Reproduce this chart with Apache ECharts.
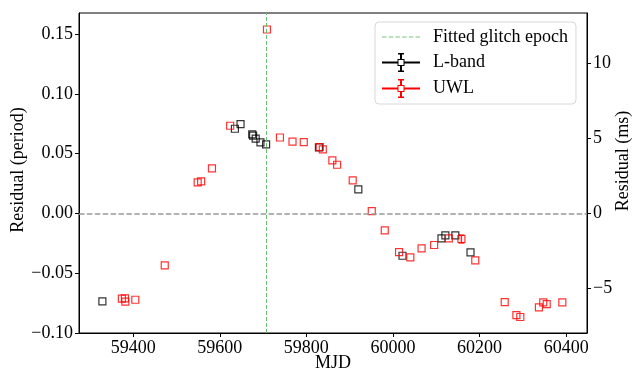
<!DOCTYPE html>
<html>
<head>
<meta charset="utf-8">
<script src="https://cdn.jsdelivr.net/npm/echarts@6/dist/echarts.min.js"></script>
<style>
  html, body { margin: 0; padding: 0; background: #fff; }
  #chart { width: 633px; height: 372px; }
</style>
</head>
<body>
<div id="chart"></div>
<script>
// timing residuals
const lbandMjd = [59329, 59635, 59648, 59675, 59677, 59683, 59694, 59707, 59829, 59920, 60022, 60112, 60121, 60144, 60179];
const lbandRes = [-0.0736, 0.0708, 0.0747, 0.0661, 0.0650, 0.0625, 0.0594, 0.0577, 0.0552, 0.0201, -0.0354, -0.0209, -0.0184, -0.0184, -0.0326];

const uwlMjd = [59374, 59381, 59382, 59405, 59473, 59549, 59557, 59582, 59624, 59709, 59739, 59768, 59794, 59831, 59838, 59860, 59871, 59907, 59951, 59981, 60014, 60040, 60066, 60095, 60129, 60158, 60190, 60258, 60285, 60294, 60337, 60347, 60355, 60391];
const uwlRes = [-0.0713, -0.0711, -0.0738, -0.0722, -0.0435, 0.0259, 0.0268, 0.0376, 0.0733, 0.1538, 0.0635, 0.0600, 0.0597, 0.0555, 0.0535, 0.0443, 0.0407, 0.0276, 0.0020, -0.0142, -0.0323, -0.0368, -0.0293, -0.0264, -0.0209, -0.0214, -0.0393, -0.0741, -0.0850, -0.0866, -0.0786, -0.0744, -0.0758, -0.0744];
// only one error bar is larger than its marker
const uwlErr = [0, 0, 0, 0, 0, 0, 0, 0, 0, 0, 0, 0, 0, 0, 0, 0, 0, 0, 0, 0, 0, 0, 0, 0, 0, 0.0033, 0, 0, 0, 0, 0, 0, 0, 0];

const glitchEpoch = 59708;
const periodMs = 79.4;

const xTicks = [59400, 59600, 59800, 60000, 60200, 60400];
const yTicks = [-0.10, -0.05, 0.00, 0.05, 0.10, 0.15];
const msTicks = [-5, 0, 5, 10];
const xRange = [59275, 60448];
const yRange = [-0.10, 0.1676];

const font = "'Liberation Serif', 'Times New Roman', serif";
const minus = s => s.replace('-', '\u2212');

const dashIcon = 'path://M1,0h4v1h-4z M7,0h4v1h-4z M13,0h4v1h-4z M19,0h4v1h-4z M25,0h4v1h-4z M31,0h4v1h-4z';
const errIcon = 'path://M0,8.5h15.5v2h-15.5z M22.5,8.5h15.5v2h-15.5z ' +
  'M15.5,6h7v1h-7z M15.5,12h7v1h-7z M15.5,6h1v7h-1z M21.5,6h1v7h-1z ' +
  'M18,0.5h2v5.5h-2z M18,13h2v5.5h-2z M16,0h6v1.5h-6z M16,17.5h6v1.5h-6z';

const chart = echarts.init(document.getElementById('chart'));

const axisName = { fontFamily: font, fontSize: 18, color: '#000' };
const axisLine = { show: true, onZero: false, lineStyle: { color: '#000', width: 1 } };

const option = {
  backgroundColor: '#fff',
  animation: false,
  textStyle: { fontFamily: font },
  grid: { left: 79, right: 46, top: 13, bottom: 39, show: true, borderColor: '#000', borderWidth: 1, outerBoundsMode: 'none' },
  legend: {
    orient: 'vertical',
    left: 375,
    top: 22,
    padding: [6, 8, 6, 7],
    itemGap: 7,
    itemWidth: 38,
    itemHeight: 19,
    backgroundColor: 'rgba(255,255,255,0.8)',
    borderColor: '#d8d8d8',
    borderWidth: 1,
    borderRadius: 4,
    textStyle: { fontFamily: font, fontSize: 18, color: '#000', padding: [0, 0, 0, 8] },
    data: [
      { name: 'Fitted glitch epoch', icon: dashIcon, itemStyle: { color: '#7cc47c', borderWidth: 0 } },
      { name: 'L-band', icon: errIcon, itemStyle: { color: '#000', borderWidth: 0 } },
      { name: 'UWL', icon: errIcon, itemStyle: { color: '#f00', borderWidth: 0 } }
    ]
  },
  xAxis: {
    type: 'value',
    min: xRange[0],
    max: xRange[1],
    name: 'MJD',
    nameLocation: 'middle',
    nameGap: 21,
    nameMoveOverlap: false,
    nameTextStyle: axisName,
    axisLine: axisLine,
    axisTick: { show: true, length: 4, customValues: xTicks, lineStyle: { color: '#000' } },
    axisLabel: { customValues: xTicks, margin: 6, fontFamily: font, fontSize: 18, color: '#000', formatter: v => String(v) },
    splitLine: { show: false }
  },
  yAxis: [
    {
      type: 'value',
      min: yRange[0],
      max: yRange[1],
      name: 'Residual (period)',
      nameLocation: 'middle',
      nameGap: 52,
      nameRotate: 90,
      nameMoveOverlap: false,
      nameTextStyle: Object.assign({ padding: [0, 0, 0, 6] }, axisName),
      axisLine: axisLine,
      axisTick: { show: true, length: 4, customValues: yTicks, lineStyle: { color: '#000' } },
      axisLabel: { customValues: yTicks, margin: 6, fontFamily: font, fontSize: 18, color: '#000', formatter: v => minus(v.toFixed(2)) },
      splitLine: { show: false }
    },
    {
      type: 'value',
      position: 'right',
      min: yRange[0] * periodMs,
      max: yRange[1] * periodMs,
      name: 'Residual (ms)',
      nameLocation: 'middle',
      nameGap: 27,
      nameRotate: 90,
      nameMoveOverlap: false,
      nameTextStyle: Object.assign({ padding: [0, 0, 0, 24] }, axisName),
      axisLine: axisLine,
      axisTick: { show: true, length: 4, customValues: msTicks, lineStyle: { color: '#000' } },
      axisLabel: { customValues: msTicks, margin: 6, fontFamily: font, fontSize: 18, color: '#000', formatter: v => minus(String(Math.round(v))) },
      splitLine: { show: false }
    }
  ],
  series: [
    {
      name: 'Fitted glitch epoch',
      type: 'line',
      data: [],
      markLine: {
        silent: true,
        symbol: 'none',
        label: { show: false },
        data: [
          { yAxis: 0, lineStyle: { color: '#999', width: 1.5, type: [5.5, 2.4] } },
          { xAxis: glitchEpoch, lineStyle: { color: '#6cbf6c', width: 1, type: [4, 2] } }
        ]
      }
    },
    {
      name: 'L-band',
      type: 'scatter',
      symbol: 'rect',
      symbolSize: 7,
      data: lbandMjd.map((m, i) => [m, lbandRes[i]]),
      itemStyle: { color: 'rgba(255,255,255,0)', borderColor: 'rgba(0,0,0,0.8)', borderWidth: 1.2, opacity: 1 }
    },
    {
      name: 'UWL error',
      type: 'custom',
      data: uwlMjd.map((m, i) => [m, uwlRes[i], uwlErr[i]]),
      renderItem: (params, api) => {
        const e = api.value(2);
        if (!e) return null;
        const top = api.coord([api.value(0), api.value(1) + e]);
        const bot = api.coord([api.value(0), api.value(1) - e]);
        const st = { stroke: 'rgba(255,0,0,0.85)', lineWidth: 1.5 };
        return {
          type: 'group',
          children: [
            { type: 'line', shape: { x1: top[0], y1: top[1], x2: bot[0], y2: bot[1] }, style: st },
            { type: 'line', shape: { x1: top[0] - 3, y1: top[1], x2: top[0] + 3, y2: top[1] }, style: st },
            { type: 'line', shape: { x1: bot[0] - 3, y1: bot[1], x2: bot[0] + 3, y2: bot[1] }, style: st }
          ]
        };
      }
    },
    {
      name: 'UWL',
      type: 'scatter',
      symbol: 'rect',
      symbolSize: 7,
      data: uwlMjd.map((m, i) => [m, uwlRes[i]]),
      itemStyle: { color: 'rgba(255,255,255,0)', borderColor: 'rgba(255,0,0,0.8)', borderWidth: 1.2, opacity: 1 }
    }
  ]
};

chart.setOption(option);
</script>
</body>
</html>
